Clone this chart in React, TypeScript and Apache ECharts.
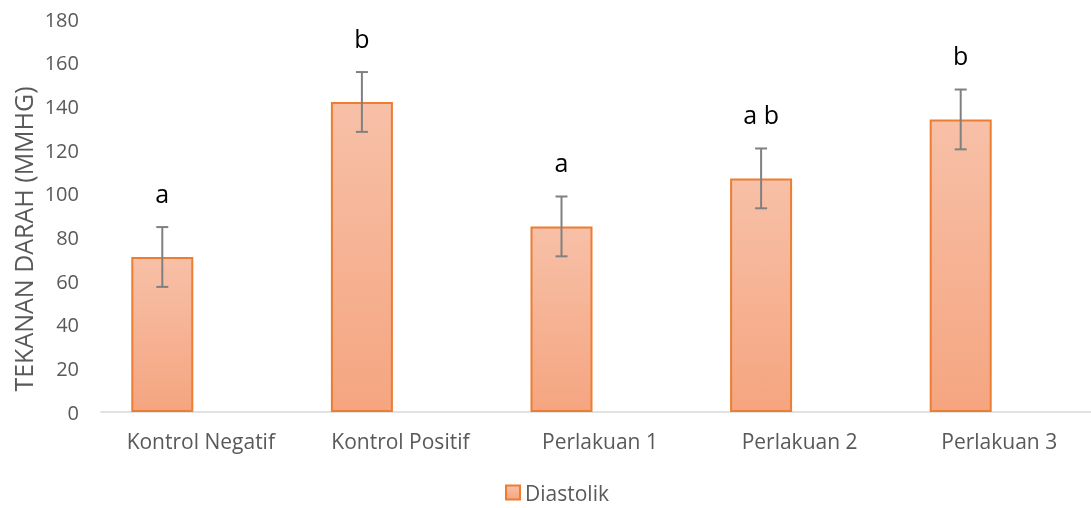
import React, { useEffect, useRef } from "react";
import * as echarts from "echarts";

const categories = ["Kontrol Negatif", "Kontrol Positif", "Perlakuan 1", "Perlakuan 2", "Perlakuan 3"];
const diastolik = [71, 142, 85, 107, 134];
const errors = [13.7, 13.7, 13.7, 13.7, 13.7];
const letters = ["a", "b", "a", "a b", "b"];
const yTicks = { min: 0, max: 180, interval: 20 };
const yTitle = "TEKANAN DARAH (MMHG)";

const BAR_W = 62;
const BAR_GAP = 15;

export default function App() {
  const ref = useRef<HTMLDivElement>(null);
  useEffect(() => {
    const chart = echarts.init(ref.current!, null, { renderer: "svg" });
    const font = "'Open Sans', sans-serif";
    const errData = diastolik.map((v, i) => [i, v, errors[i]]);
    chart.setOption({
      animation: false,
      textStyle: { fontFamily: font },
      grid: { left: 101, width: 998, top: 19, bottom: 96, outerBoundsMode: "none", containLabel: false },
      legend: {
        bottom: 0,
        left: 500,
        data: [{ name: "Diastolik", icon: "rect" }],
        itemWidth: 14,
        itemHeight: 14,
        itemGap: 6,
        textStyle: { color: "#595959", fontSize: 21, fontFamily: font },
      },
      graphic: [
        {
          type: "text",
          x: 23,
          y: 239,
          rotation: Math.PI / 2,
          style: {
            text: yTitle,
            fill: "#595959",
            fontSize: 25,
            fontFamily: font,
            align: "center",
            verticalAlign: "middle",
          },
        },
      ],
      xAxis: {
        type: "category",
        data: categories,
        axisLine: { show: true, lineStyle: { color: "#D9D9D9", width: 1.5 } },
        axisTick: { show: false },
        axisLabel: { color: "#595959", fontSize: 21, margin: 18, fontFamily: font },
      },
      yAxis: {
        type: "value",
        min: yTicks.min,
        max: yTicks.max,
        interval: yTicks.interval,
        splitLine: { show: false },
        axisLine: { show: false },
        axisTick: { show: false },
        axisLabel: { color: "#595959", fontSize: 20, margin: 22, fontFamily: font },
      },
      series: [
        {
          name: "Diastolik",
          type: "bar",
          data: diastolik,
          barWidth: BAR_W,
          barGap: (BAR_GAP / BAR_W) * 100 + "%",
          itemStyle: {
            color: new echarts.graphic.LinearGradient(0, 0, 0, 1, [
              { offset: 0, color: "#F7C0A7" },
              { offset: 1, color: "#F5A580" },
            ]),
            borderColor: "#ED7D31",
            borderWidth: 2,
          },
        },
        {
          name: "ghost",
          type: "bar",
          data: diastolik.map(() => null),
          barWidth: BAR_W,
        },
        {
          name: "err",
          type: "custom",
          data: errData,
          z: 10,
          renderItem: (params: any, api: any) => {
            const i = api.value(0);
            const v = api.value(1);
            const e = api.value(2);
            const lbl = letters[params.dataIndex];
            const c = api.coord([i, v]);
            const x = c[0] - (BAR_W + BAR_GAP) / 2;
            const top = api.coord([i, v + e])[1];
            const bot = api.coord([i, v - e])[1];
            const cap = 6;
            const ls = { stroke: "#808080", lineWidth: 2 };
            return {
              type: "group",
              children: [
                { type: "line", shape: { x1: x, y1: top, x2: x, y2: bot }, style: ls },
                { type: "line", shape: { x1: x - cap, y1: top, x2: x + cap, y2: top }, style: ls },
                { type: "line", shape: { x1: x - cap, y1: bot, x2: x + cap, y2: bot }, style: ls },
                {
                  type: "text",
                  x: x,
                  y: top - 22,
                  style: {
                    text: lbl,
                    fill: "#000",
                    fontSize: 25,
                    fontFamily: font,
                    align: "center",
                    verticalAlign: "bottom",
                  },
                },
              ],
            };
          },
        },
      ],
    });
    return () => chart.dispose();
  }, []);
  return <div ref={ref} style={{ position: "fixed", left: 0, top: 0, width: 1091, height: 508 }} />;
}
